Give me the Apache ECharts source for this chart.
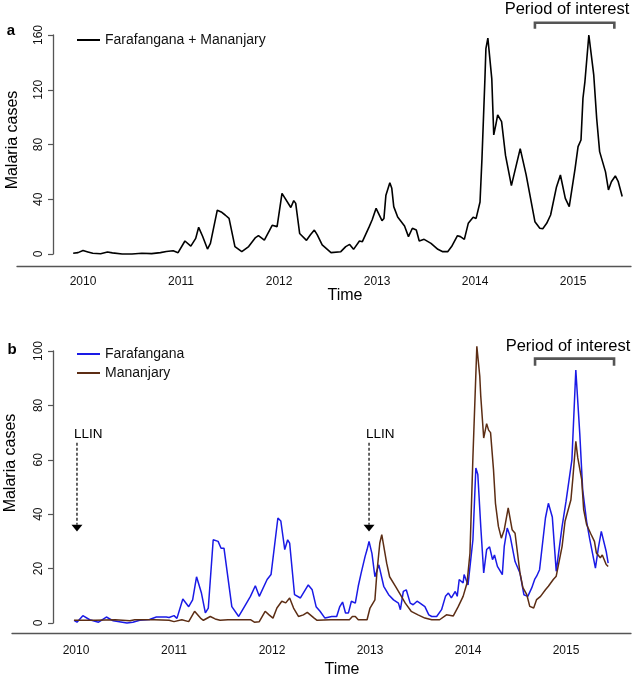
<!DOCTYPE html>
<html>
<head>
<meta charset="utf-8">
<script src="https://cdn.jsdelivr.net/npm/echarts@6.0.0/dist/echarts.min.js"></script>
<style>
html, body { margin: 0; padding: 0; background: #fff; }
#main { width: 638px; height: 678px; }
</style>
</head>
<body>
<div id="main"></div>
<script>
// panel a: both districts together (weekly cases)
var timeA = [2009.90, 2009.95, 2010.00, 2010.05, 2010.10, 2010.18, 2010.25, 2010.30, 2010.40, 2010.50,
  2010.60, 2010.70, 2010.79, 2010.85, 2010.92, 2010.97, 2011.04, 2011.10, 2011.15, 2011.18,
  2011.22, 2011.27, 2011.30, 2011.37, 2011.41, 2011.45, 2011.49, 2011.55, 2011.62, 2011.69,
  2011.76, 2011.79, 2011.85, 2011.93, 2011.98, 2012.03, 2012.05, 2012.12, 2012.15, 2012.17,
  2012.21, 2012.28, 2012.32, 2012.36, 2012.39, 2012.44, 2012.53, 2012.63, 2012.68, 2012.72,
  2012.76, 2012.82, 2012.85, 2012.92, 2012.95, 2012.99, 2013.01, 2013.05, 2013.07, 2013.09,
  2013.13, 2013.15, 2013.17, 2013.21, 2013.28, 2013.32, 2013.36, 2013.40, 2013.43, 2013.48,
  2013.55, 2013.62, 2013.67, 2013.72, 2013.76, 2013.82, 2013.85, 2013.89, 2013.93, 2013.98,
  2014.01, 2014.05, 2014.07, 2014.10, 2014.11, 2014.13, 2014.17, 2014.19, 2014.21, 2014.23,
  2014.27, 2014.31, 2014.37, 2014.38, 2014.46, 2014.47, 2014.52, 2014.61, 2014.66, 2014.69,
  2014.73, 2014.77, 2014.83, 2014.87, 2014.92, 2014.96, 2015.02, 2015.05, 2015.08, 2015.10,
  2015.12, 2015.16, 2015.21, 2015.24, 2015.27, 2015.33, 2015.36, 2015.39, 2015.43, 2015.46,
  2015.50];
var casesA = [0.5, 1, 2.5, 1.5, 0.5, 0.2, 1.5, 0.8, 0, 0,
  0.5, 0.3, 1, 1.8, 2.4, 1, 9.5, 5.8, 11.4, 19.5,
  13, 3.6, 7.8, 32, 30.7, 28.5, 26, 5.4, 1.7, 5.4,
  12, 13.4, 10.2, 21, 20, 44.3, 45, 34, 39, 37,
  15, 10, 14, 17.5, 14, 6.6, 1, 1.7, 5.4, 7,
  3.4, 9.5, 9, 20, 25, 33.4, 33, 24.4, 26, 43,
  52, 48, 34.6, 27, 20.5, 12.7, 18.8, 17.5, 9.5, 10.7,
  7.8, 3.4, 1.7, 1.7, 5.4, 13.4, 12.7, 10.7, 22.4, 26.8,
  26, 38, 70, 128, 150, 157.7, 128, 87, 94, 101.6,
  96.7, 72, 50, 50, 77, 76, 58, 23.6, 18.8, 18.5,
  22.4, 28.5, 49, 57.7, 40.7, 34.6, 62.6, 78.4, 83.3, 113.8,
  126, 160, 130.8, 99, 74.8, 60, 46.8, 52.8, 57, 52.8,
  42];

// panel b: Farafangana
var timeF = [2009.98, 2010.01, 2010.07, 2010.14, 2010.23, 2010.31, 2010.38, 2010.52, 2010.58, 2010.65,
  2010.75, 2010.82, 2010.92, 2010.95, 2011.00, 2011.03, 2011.09, 2011.15, 2011.19, 2011.23,
  2011.28, 2011.32, 2011.35, 2011.40, 2011.45, 2011.48, 2011.51, 2011.59, 2011.66, 2011.71,
  2011.78, 2011.83, 2011.87, 2011.95, 2011.99, 2012.01, 2012.06, 2012.09, 2012.13, 2012.16,
  2012.18, 2012.23, 2012.29, 2012.31, 2012.37, 2012.41, 2012.45, 2012.49, 2012.54, 2012.61,
  2012.66, 2012.69, 2012.72, 2012.75, 2012.78, 2012.81, 2012.85, 2012.88, 2012.91, 2012.95,
  2012.97, 2012.99, 2013.02, 2013.05, 2013.09, 2013.10, 2013.14, 2013.19, 2013.24, 2013.29,
  2013.31, 2013.34, 2013.37, 2013.41, 2013.44, 2013.48, 2013.51, 2013.56, 2013.60, 2013.63,
  2013.68, 2013.73, 2013.77, 2013.80, 2013.83, 2013.87, 2013.89, 2013.91, 2013.95, 2013.96,
  2014.00, 2014.02, 2014.05, 2014.08, 2014.10, 2014.13, 2014.16, 2014.19, 2014.22, 2014.25,
  2014.27, 2014.30, 2014.32, 2014.35, 2014.37, 2014.40, 2014.43, 2014.48, 2014.53, 2014.57,
  2014.61, 2014.65, 2014.68, 2014.70, 2014.73, 2014.79, 2014.82, 2014.86, 2014.90, 2014.96,
  2015.00, 2015.01, 2015.06, 2015.10, 2015.14, 2015.17, 2015.21, 2015.24, 2015.27, 2015.30,
  2015.33, 2015.36, 2015.37, 2015.41, 2015.43];
var casesF = [1, 0.3, 2.7, 1.2, 0.3, 2.2, 0.8, 0, 0.3, 1,
  1.3, 2.2, 2.2, 2, 2.7, 1.7, 8.8, 6, 8.5, 17,
  11, 3.7, 5.5, 30.6, 30, 27.5, 27.5, 6, 2.4, 5.5,
  9.8, 13.7, 9.8, 16, 17.8, 18.3, 38.6, 37.5, 27, 30.6,
  29.4, 10.4, 9.2, 10.4, 14, 12.2, 6, 4.3, 1.8, 2.4,
  2.4, 5.9, 7.7, 3.7, 3.7, 8, 7.3, 13.5, 18.4, 24.5,
  27, 30, 25.5, 17, 21.4, 20.8, 13.5, 10.4, 8.5, 7.3,
  4.9, 11.6, 12.2, 7.3, 6.7, 8, 7.3, 6, 3, 2.4,
  2.4, 4.9, 9.8, 11, 9.2, 11.6, 9.8, 16, 14.7, 17.8,
  14, 14, 30.6, 57, 54.6, 35.5, 18.4, 27, 28, 23.3,
  25, 20.8, 19.6, 17.8, 28.3, 34.9, 31.9, 22.6, 18.4, 10.4,
  9.8, 12.9, 16, 17.2, 19.6, 38.6, 44, 39, 19, 35.5,
  44.7, 45.3, 60, 93, 69.8, 49, 37.4, 31.2, 25.7, 20.2,
  27.6, 33.7, 33.7, 26.3, 22];

// panel b: Mananjary
var timeM = [2009.98, 2010.20, 2010.40, 2010.55, 2010.60, 2010.80, 2010.95, 2011.00, 2011.08, 2011.15,
  2011.21, 2011.27, 2011.30, 2011.37, 2011.42, 2011.47, 2011.55, 2011.70, 2011.78, 2011.82,
  2011.87, 2011.93, 2011.97, 2012.01, 2012.05, 2012.10, 2012.14, 2012.18, 2012.19, 2012.22,
  2012.27, 2012.32, 2012.36, 2012.43, 2012.46, 2012.60, 2012.79, 2012.82, 2012.85, 2012.88,
  2012.97, 2013.00, 2013.05, 2013.07, 2013.10, 2013.12, 2013.13, 2013.17, 2013.20, 2013.26,
  2013.31, 2013.36, 2013.42, 2013.49, 2013.56, 2013.63, 2013.71, 2013.78, 2013.85, 2013.90,
  2013.95, 2013.99, 2014.02, 2014.05, 2014.09, 2014.12, 2014.13, 2014.16, 2014.19, 2014.21,
  2014.23, 2014.26, 2014.28, 2014.31, 2014.34, 2014.37, 2014.41, 2014.45, 2014.48, 2014.53,
  2014.56, 2014.60, 2014.63, 2014.67, 2014.70, 2014.74, 2014.79, 2014.82, 2014.87, 2014.90,
  2014.96, 2014.99, 2015.05, 2015.07, 2015.10, 2015.12, 2015.16, 2015.18, 2015.21, 2015.25,
  2015.29, 2015.31, 2015.35, 2015.37, 2015.39, 2015.41, 2015.43];
var casesM = [1, 1, 1.2, 0.8, 1.2, 1.2, 1, 0.5, 1.2, 0.5,
  4.3, 1.8, 1, 2.4, 1.5, 1, 1.2, 1.2, 1.2, 0.3,
  0.5, 4.3, 3, 1.8, 5.5, 8, 7.4, 9.2, 9.6, 5.5,
  2.4, 3, 3.9, 1.8, 1, 1.2, 1.2, 2.4, 2.4, 1.2,
  1.2, 5.5, 8.5, 18.4, 29.4, 32.5, 32.5, 22, 17, 13.5,
  10.4, 7.3, 4.3, 3, 1.8, 1.2, 1.2, 3, 2.6, 6,
  9.8, 14.7, 25.7, 61, 101.7, 90.7, 83.4, 68, 73.3, 70.9,
  70, 56.4, 44, 35.5, 31.2, 34.3, 42.3, 34.3, 33, 18.4,
  13, 10.4, 6.1, 5.5, 8.6, 9.8, 12.2, 13.5, 16, 17.2,
  28.2, 37.4, 45.3, 53.3, 66.8, 60.7, 52.7, 41.7, 36.2, 33,
  30, 25.7, 24, 25, 24.5, 21.5, 20.8];

var yearTicks = [2010, 2011, 2012, 2013, 2014, 2015];
var llinYears = [2010.01, 2012.99];

var font = '"Liberation Sans", Arial, sans-serif';
var axisGrey = '#555';

function pairs(t, v) {
  return t.map(function (x, i) { return [x, v[i]]; });
}

function xAxisFor(g, min, max, off, margin) {
  return {
    gridIndex: g, type: 'value', min: min, max: max, offset: off,
    axisLine: { show: true, onZero: false, lineStyle: { color: axisGrey, width: 1.3 } },
    axisTick: { show: false },
    splitLine: { show: false },
    axisLabel: {
      customValues: yearTicks, margin: margin, fontSize: 12, color: '#111', fontFamily: font,
      formatter: function (v) { return String(v); }
    }
  };
}

function yAxisFor(g, max, step, off) {
  return {
    gridIndex: g, type: 'value', min: 0, max: max, interval: step, offset: off,
    axisLine: { show: true, onZero: false, lineStyle: { color: axisGrey, width: 1.3 } },
    axisTick: { show: true, length: 5, lineStyle: { color: axisGrey, width: 1.2 } },
    splitLine: { show: false },
    axisLabel: { rotate: 90, margin: 8, fontSize: 12, color: '#111', fontFamily: font }
  };
}

var myChart = echarts.init(document.getElementById('main'));

var option = {
  backgroundColor: '#fff',
  animation: false,
  grid: [
    { left: 17, right: 7, top: 35, height: 219 },
    { left: 12, right: 7, top: 351, height: 272 }
  ],
  xAxis: [
    xAxisFor(0, 2009.327, 2015.59, 12, 10),
    xAxisFor(1, 2009.347, 2015.663, 10, 12)
  ],
  yAxis: [
    yAxisFor(0, 160, 40, -36),
    yAxisFor(1, 100, 20, -41)
  ],
  legend: [
    {
      data: ['Farafangana + Mananjary'], left: 72, top: 28,
      icon: 'rect', itemWidth: 23, itemHeight: 2,
      textStyle: { fontSize: 14, color: '#111', fontFamily: font }
    },
    {
      data: ['Farafangana', 'Mananjary'], orient: 'vertical', left: 72, top: 342, itemGap: 5,
      icon: 'rect', itemWidth: 23, itemHeight: 2,
      textStyle: { fontSize: 14, color: '#111', fontFamily: font }
    }
  ],
  series: [
    {
      name: 'Farafangana + Mananjary', type: 'line', xAxisIndex: 0, yAxisIndex: 0,
      data: pairs(timeA, casesA), symbol: 'none', showSymbol: false, clip: false,
      color: '#000', lineStyle: { color: '#000', width: 1.6 }
    },
    {
      name: 'Farafangana', type: 'line', xAxisIndex: 1, yAxisIndex: 1,
      data: pairs(timeF, casesF), symbol: 'none', showSymbol: false, clip: false,
      color: '#1a1ae6', lineStyle: { color: '#1a1ae6', width: 1.5 }
    },
    {
      name: 'Mananjary', type: 'line', xAxisIndex: 1, yAxisIndex: 1,
      data: pairs(timeM, casesM), symbol: 'none', showSymbol: false, clip: false,
      color: '#5c2d14', lineStyle: { color: '#5c2d14', width: 1.5 }
    }
  ]
};

myChart.setOption(option);

// annotations placed through the axes
function pt(g, x, y) { return myChart.convertToPixel({ gridIndex: g }, [x, y]); }

function label(txt, x, y, size, opts) {
  opts = opts || {};
  return {
    type: 'text', x: x, y: y, rotation: opts.rot || 0, silent: true,
    style: {
      text: txt, x: 0, y: 0, fill: '#000',
      font: (opts.bold ? 'bold ' : '') + size + 'px ' + font,
      align: opts.align || 'center', verticalAlign: 'middle',
      textAlign: opts.align || 'center', textVerticalAlign: 'middle'
    }
  };
}

function bracket(g, x1, x2, yTop, yTick) {
  var a = pt(g, x1, yTick), b = pt(g, x1, yTop), c = pt(g, x2, yTop), d = pt(g, x2, yTick);
  return {
    type: 'polyline', silent: true,
    shape: { points: [a, b, c, d] },
    style: { stroke: '#555', lineWidth: 2.6, fill: null }
  };
}

var els = [
  label('a', 11, 31, 15, { bold: true }),
  label('b', 12, 350, 15, { bold: true }),
  label('Malaria cases', 13, 140, 16, { rot: Math.PI / 2 }),
  label('Malaria cases', 11, 463, 16, { rot: Math.PI / 2 }),
  label('Time', 345, 296, 16),
  label('Time', 342, 670, 16),
  label('Period of interest', 567, 9, 16.5),
  label('Period of interest', 568, 346, 16.5),
  bracket(0, 2014.61, 2015.42, 168.9, 164.5),
  bracket(1, 2014.684, 2015.49, 97.2, 94.6)
];

llinYears.forEach(function (yr) {
  var top = pt(1, yr, 66.3), head = pt(1, yr, 36.1), tip = pt(1, yr, 33.6), txt = pt(1, yr, 69.3);
  els.push({
    type: 'line', silent: true,
    shape: { x1: top[0], y1: top[1], x2: head[0], y2: head[1] },
    style: { stroke: '#000', lineWidth: 1.2, lineDash: [3, 2] }
  });
  els.push({
    type: 'polygon', silent: true,
    shape: { points: [[head[0] - 5.5, head[1]], [head[0] + 5.5, head[1]], [tip[0], tip[1]]] },
    style: { fill: '#000' }
  });
  els.push(label('LLIN', txt[0] - 3, txt[1], 13.5, { align: 'left' }));
});

myChart.setOption({ graphic: els });

window.onresize = function () {
  myChart.resize();
};
</script>
</body>
</html>
